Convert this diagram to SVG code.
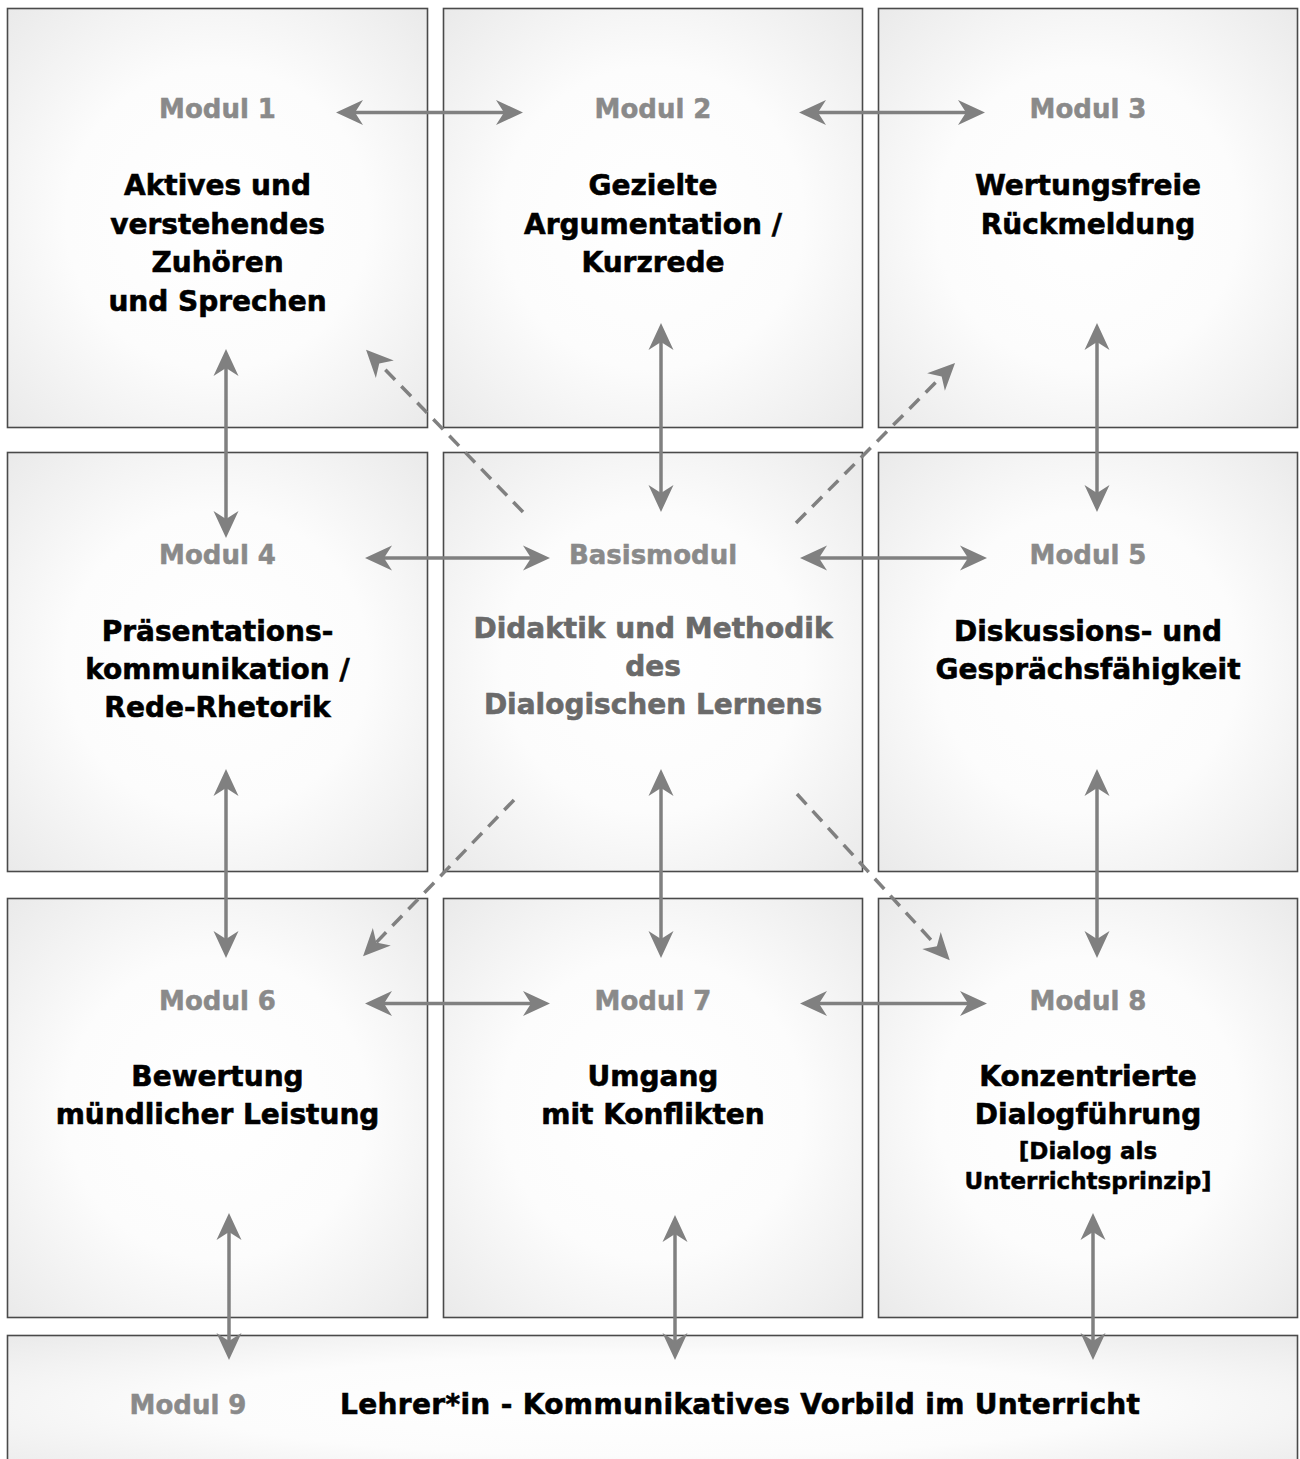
<svg xmlns="http://www.w3.org/2000/svg" width="1300" height="1459" viewBox="0 0 1300 1459">
<style>
.box{stroke:#4a4a4a;stroke-width:1.6;fill:url(#g)}
.lbl{font-family:"DejaVu Sans",Verdana,sans-serif;font-weight:bold;font-size:26px;fill:#8a8a8a;stroke:#8a8a8a;stroke-width:0.5;text-anchor:middle}
.t{font-family:"DejaVu Sans",Verdana,sans-serif;font-weight:bold;font-size:28px;fill:#000;stroke:#000;stroke-width:0.6;text-anchor:middle}
.tg{fill:#6a6a6a;stroke:#6a6a6a}
.s{font-size:23px;stroke-width:0.5}
.a{stroke:#808080;stroke-width:3.5;fill:none;marker-start:url(#ah);marker-end:url(#ah)}
.d{stroke:#808080;stroke-width:3.5;fill:none;stroke-dasharray:14 9;marker-end:url(#ah)}
</style>
<defs>
<radialGradient id="g" cx="0.5" cy="0.5" r="0.72">
<stop offset="0" stop-color="#ffffff"/>
<stop offset="0.5" stop-color="#fcfcfc"/>
<stop offset="1" stop-color="#e9e9e9"/>
</radialGradient>
<marker id="ah" viewBox="-18 -13 29 26" markerWidth="29" markerHeight="26" refX="0" refY="0" orient="auto-start-reverse" markerUnits="userSpaceOnUse">
<path d="M10,0 L-17,-12.5 L-9,0 L-17,12.5 Z" fill="#808080"/>
</marker>
</defs>
<rect width="1300" height="1459" fill="#fff"/>
<g id="modul1"><rect class="box" x="7.5" y="8.5" width="420" height="419"/>
<text class="lbl" x="217.5" y="118">Modul 1</text>
<text class="t" x="217.5" y="195">Aktives und</text>
<text class="t" x="217.5" y="233.5">verstehendes</text>
<text class="t" x="217.5" y="272">Zuhören</text>
<text class="t" x="217.5" y="310.5">und Sprechen</text></g>
<g id="modul2"><rect class="box" x="443.5" y="8.5" width="419" height="419"/>
<text class="lbl" x="653" y="118">Modul 2</text>
<text class="t" x="653" y="195">Gezielte</text>
<text class="t" x="653" y="233.5">Argumentation /</text>
<text class="t" x="653" y="272">Kurzrede</text></g>
<g id="modul3"><rect class="box" x="878.5" y="8.5" width="419" height="419"/>
<text class="lbl" x="1088" y="118">Modul 3</text>
<text class="t" x="1088" y="195">Wertungsfreie</text>
<text class="t" x="1088" y="233.5">Rückmeldung</text></g>
<g id="modul4"><rect class="box" x="7.5" y="452.5" width="420" height="419"/>
<text class="lbl" x="217.5" y="564">Modul 4</text>
<text class="t" x="217.5" y="640.5">Präsentations-</text>
<text class="t" x="217.5" y="678.5">kommunikation /</text>
<text class="t" x="217.5" y="716.5">Rede-Rhetorik</text></g>
<g id="basismodul"><rect class="box" x="443.5" y="452.5" width="419" height="419"/>
<text class="lbl" x="653" y="564">Basismodul</text>
<text class="t tg" x="653" y="637.5">Didaktik und Methodik</text>
<text class="t tg" x="653" y="675.5">des</text>
<text class="t tg" x="653" y="714">Dialogischen Lernens</text></g>
<g id="modul5"><rect class="box" x="878.5" y="452.5" width="419" height="419"/>
<text class="lbl" x="1088" y="564">Modul 5</text>
<text class="t" x="1088" y="640.5">Diskussions- und</text>
<text class="t" x="1088" y="678.5">Gesprächsfähigkeit</text></g>
<g id="modul6"><rect class="box" x="7.5" y="898.5" width="420" height="419"/>
<text class="lbl" x="217.5" y="1010">Modul 6</text>
<text class="t" x="217.5" y="1086">Bewertung</text>
<text class="t" x="217.5" y="1124">mündlicher Leistung</text></g>
<g id="modul7"><rect class="box" x="443.5" y="898.5" width="419" height="419"/>
<text class="lbl" x="653" y="1010">Modul 7</text>
<text class="t" x="653" y="1086">Umgang</text>
<text class="t" x="653" y="1124">mit Konflikten</text></g>
<g id="modul8"><rect class="box" x="878.5" y="898.5" width="419" height="419"/>
<text class="lbl" x="1088" y="1010">Modul 8</text>
<text class="t" x="1088" y="1086">Konzentrierte</text>
<text class="t" x="1088" y="1124">Dialogführung</text>
<text class="t s" x="1088" y="1159">[Dialog als</text>
<text class="t s" x="1088" y="1189">Unterrichtsprinzip]</text></g>
<g id="modul9"><rect class="box" x="7.5" y="1335.5" width="1290" height="140"/>
<text class="lbl" x="188" y="1414">Modul 9</text>
<text class="t" x="740" y="1414" textLength="800" lengthAdjust="spacing">Lehrer*in - Kommunikatives Vorbild im Unterricht</text></g>
<g id="connectors">
<line class="a" x1="346" y1="112.5" x2="513" y2="112.5"/>
<line class="a" x1="809" y1="112.5" x2="975" y2="112.5"/>
<line class="a" x1="375" y1="558" x2="540" y2="558"/>
<line class="a" x1="810" y1="558" x2="977" y2="558"/>
<line class="a" x1="375" y1="1003.5" x2="540" y2="1003.5"/>
<line class="a" x1="810" y1="1003.5" x2="977" y2="1003.5"/>
<line class="a" x1="226" y1="359" x2="226" y2="528"/>
<line class="a" x1="661" y1="333" x2="661" y2="502"/>
<line class="a" x1="1097" y1="333" x2="1097" y2="502"/>
<line class="a" x1="226" y1="779" x2="226" y2="948"/>
<line class="a" x1="661" y1="779" x2="661" y2="948"/>
<line class="a" x1="1097" y1="779" x2="1097" y2="948"/>
<line class="a" x1="229" y1="1223" x2="229" y2="1350"/>
<line class="a" x1="675" y1="1225" x2="675" y2="1350"/>
<line class="a" x1="1093" y1="1223" x2="1093" y2="1350"/>
<line class="d" x1="523" y1="512" x2="373" y2="357"/>
<line class="d" x1="796" y1="523" x2="948" y2="370"/>
<line class="d" x1="514" y1="800" x2="370" y2="949"/>
<line class="d" x1="797" y1="794" x2="943" y2="953"/>
</g>
</svg>
